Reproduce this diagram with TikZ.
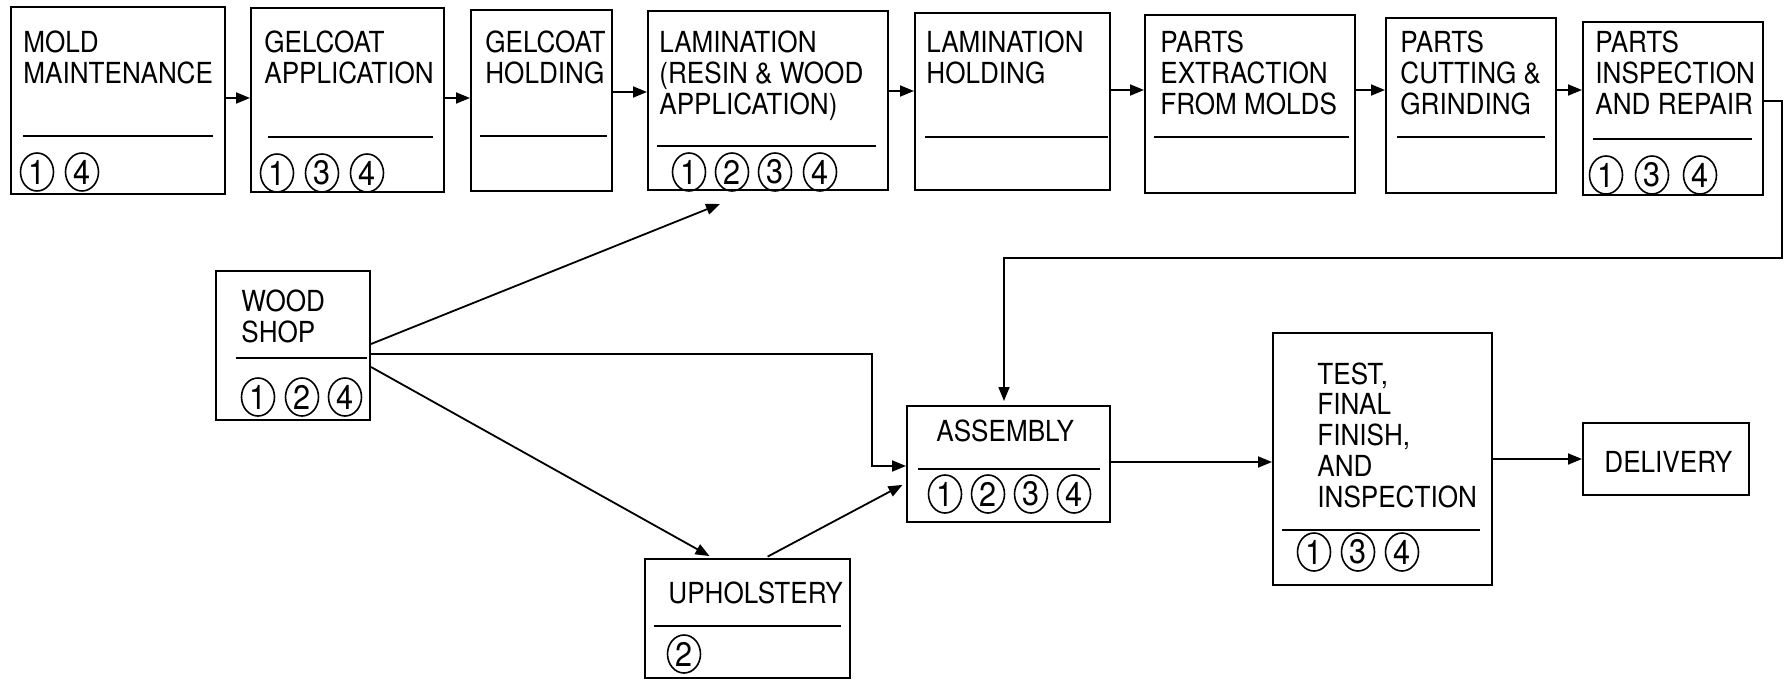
\documentclass[tikz,border=0pt]{standalone}
\usepackage{fontspec}
\setmainfont{TeX Gyre Heros}[FakeStretch=0.9]
\usetikzlibrary{arrows.meta,fit,shapes.geometric}
\begin{document}
\begin{tikzpicture}[x=0.5pt,y=-0.5pt,
  box/.style={draw, line width=1pt, inner sep=0pt, rectangle},
  txt/.style={inner sep=0pt, anchor=north west, align=left, font=\fontsize{14.5}{15.5}\selectfont},
  circ/.style={draw, ellipse, line width=0.8pt, inner sep=0pt, minimum width=16.5pt, minimum height=19pt, font=\fontsize{17}{17}\selectfont},
  div/.style={line width=0.9pt},
  arr/.style={line width=0.9pt, -{Triangle[length=7pt,width=5.5pt]}}]
\path[fill=white] (0,0) rectangle (1788,680);
\useasboundingbox (0,0) rectangle (1788,680);

% ---------- top row ----------
\node[box, fit={(11,7) (225,194)}] (mold) {};
\node[txt] (moldT) at (23,30) {MOLD\\MAINTENANCE};
\draw[div] (23,136) -- (213,136);
\node[circ] (mold1) at (37,172) {1};
\node[circ] (mold4) at (82,172) {4};

\node[box, fit={(251,8) (444,192)}] (gapp) {};
\node[txt] (gappT) at (264,30) {GELCOAT\\APPLICATION};
\draw[div] (268,137) -- (433,137);
\node[circ] (gapp1) at (277,173) {1};
\node[circ] (gapp3) at (322,173) {3};
\node[circ] (gapp4) at (367,173) {4};

\node[box, fit={(471,10) (612,191)}] (ghold) {};
\node[txt] (gholdT) at (485,30) {GELCOAT\\HOLDING};
\draw[div] (480,136) -- (607,136);

\node[box, fit={(648,11) (888,190)}] (lam) {};
\node[txt] (lamT) at (659,30) {LAMINATION\\(RESIN \& WOOD\\APPLICATION)};
\draw[div] (657,146) -- (876,146);
\node[circ] (lam1) at (689,172) {1};
\node[circ] (lam2) at (732,172) {2};
\node[circ] (lam3) at (775,172) {3};
\node[circ] (lam4) at (820,172) {4};

\node[box, fit={(915,13) (1110,190)}] (lhold) {};
\node[txt] (lholdT) at (926,30) {LAMINATION\\HOLDING};
\draw[div] (925,137) -- (1108,137);

\node[box, fit={(1145,15) (1355,193)}] (pext) {};
\node[txt] (pextT) at (1160,30) {PARTS\\EXTRACTION\\FROM MOLDS};
\draw[div] (1154,137) -- (1349,137);

\node[box, fit={(1386,18) (1556,193)}] (pcut) {};
\node[txt] (pcutT) at (1400,30) {PARTS\\CUTTING \&\\GRINDING};
\draw[div] (1397,137) -- (1545,137);

\node[box, fit={(1583,22) (1763,195)}] (pins) {};
\node[txt] (pinsT) at (1595,30) {PARTS\\INSPECTION\\AND REPAIR};
\draw[div] (1593,139) -- (1752,139);
\node[circ] (pins1) at (1606,175) {1};
\node[circ] (pins3) at (1652,175) {3};
\node[circ] (pins4) at (1700,175) {4};

% ---------- lower part ----------
\node[box, fit={(216,271) (370,420)}] (wood) {};
\node[txt] (woodT) at (241,289) {WOOD\\SHOP};
\draw[div] (236,358) -- (367,358);
\node[circ] (wood1) at (258,397) {1};
\node[circ] (wood2) at (302,397) {2};
\node[circ] (wood4) at (345,397) {4};

\node[box, fit={(907,406) (1110,522)}] (asm) {};
\node[txt] (asmT) at (936,419) {ASSEMBLY};
\draw[div] (918,469) -- (1100,469);
\node[circ] (asm1) at (945,494) {1};
\node[circ] (asm2) at (988,494) {2};
\node[circ] (asm3) at (1031,494) {3};
\node[circ] (asm4) at (1074,494) {4};

\node[box, fit={(1273,333) (1492,585)}] (test) {};
\node[txt, font=\fontsize{14.5}{15.4}\selectfont] (testT) at (1317,362) {TEST,\\FINAL\\FINISH,\\AND\\INSPECTION};
\draw[div] (1282,530) -- (1480,530);
\node[circ] (test1) at (1314,552) {1};
\node[circ] (test3) at (1358,552) {3};
\node[circ] (test4) at (1402,552) {4};

\node[box, fit={(1583,423) (1749,495)}] (del) {};
\node[txt] (delT) at (1604,451) {DELIVERY};

\node[box, fit={(645,559) (850,678)}] (uph) {};
\node[txt] (uphT) at (668,581) {UPHOLSTERY};
\draw[div] (654,626) -- (841,626);
\node[circ] (uph2) at (684,654) {2};

% ---------- connectors ----------
\draw[arr] (mold.east |- 0,98) -- (gapp.west |- 0,98);
\draw[arr] (gapp.east |- 0,98) -- (ghold.west |- 0,98);
\draw[arr] (ghold.east |- 0,92) -- (lam.west |- 0,92);
\draw[arr] (lam.east |- 0,91) -- (lhold.west |- 0,91);
\draw[arr] (lhold.east |- 0,90) -- (pext.west |- 0,90);
\draw[arr] (pext.east |- 0,90) -- (pcut.west |- 0,90);
\draw[arr] (pcut.east |- 0,90) -- (pins.west |- 0,90);

\draw[arr, shorten >=2pt] (pins.east |- 0,101) -- (1782,101) -- (1782,258) -- (1004,258) -- (asm.north -| 1004,0);

\coordinate (lamIn) at (720,204);
\draw[arr] (wood.east |- 0,344) -- (lamIn);
\draw[arr] (wood.east |- 0,354) -- (872,354) -- (872,466) -- (asm.west |- 0,466);
\draw[arr, shorten >=2pt] (wood.east |- 0,367) -- (uph.north -| 713,0);
\draw[arr, shorten <=1.5pt, shorten >=2pt] (uph.north -| 765,0) -- (asm.west |- 0,483);

\draw[arr] (asm.east |- 0,462) -- (test.west |- 0,462);
\draw[arr] (test.east |- 0,459) -- (del.west |- 0,459);
\end{tikzpicture}
\end{document}
